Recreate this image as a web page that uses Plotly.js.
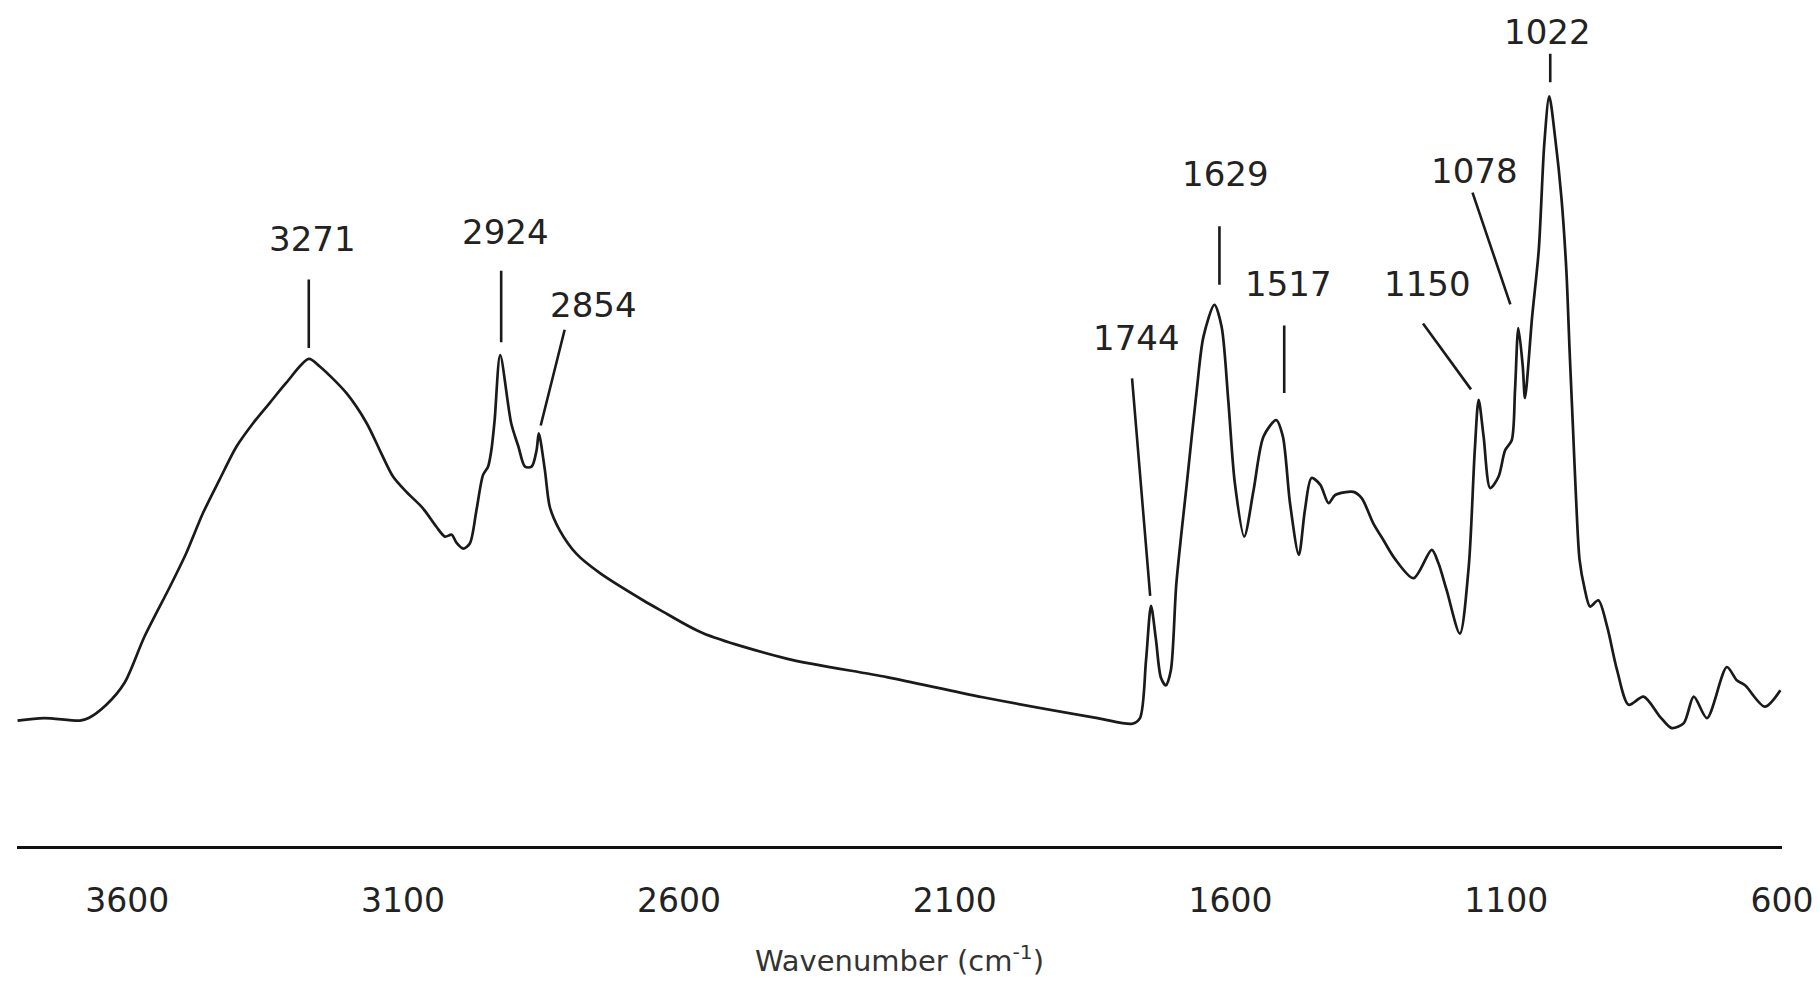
<!DOCTYPE html>
<html>
<head>
<meta charset="utf-8">
<script src="https://cdn.plot.ly/plotly-3.0.1.min.js"></script>
<style>
  html, body { margin: 0; padding: 0; background: #ffffff; }
  #chart { width: 1820px; height: 981px; }
</style>
</head>
<body>
<div id="chart"></div>
<script>
// ---- Data ----
const wavenumber = [
  3799, 3751, 3686, 3670, 3638, 3605, 3569, 3523, 3493, 3463, 3433, 3402, 3372, 3342, 3312, 3271,
  3251, 3203, 3166, 3140, 3118, 3094, 3064, 3040, 3024, 3012, 3003, 2991, 2979, 2967, 2955, 2946,
  2940, 2934, 2924, 2904, 2891, 2879, 2867, 2858, 2854, 2843, 2834, 2816, 2786, 2743, 2665, 2633,
  2557, 2403, 2223, 2049, 1841,
  1778, 1764, 1753, 1744, 1735, 1726, 1717, 1708, 1698, 1679, 1661, 1649, 1629, 1616,
  1604, 1592, 1575, 1558, 1540, 1517, 1505, 1492, 1476, 1465, 1453, 1437, 1422, 1410,
  1377, 1362, 1341, 1323, 1302, 1268, 1235, 1223, 1208, 1184, 1168, 1157, 1150, 1141,
  1129, 1114, 1102, 1090, 1084, 1078, 1070, 1066, 1053, 1041, 1031, 1022, 1011, 1000,
  991, 985, 979, 973, 967, 958, 948, 933, 917, 899, 878, 851, 821, 800, 778, 760, 736,
  700, 682, 667, 631, 603
];
const absorbance = [
  0.015, 0.019, 0.015, 0.019, 0.040, 0.075, 0.148, 0.227, 0.281, 0.344, 0.397, 0.450, 0.487, 0.519, 0.551, 0.589,
  0.577, 0.535, 0.487, 0.440, 0.402, 0.378, 0.352, 0.323, 0.307, 0.310, 0.297, 0.288, 0.296, 0.349, 0.405, 0.418,
  0.444, 0.492, 0.595, 0.487, 0.450, 0.418, 0.418, 0.444, 0.471, 0.413, 0.354, 0.317, 0.280, 0.249, 0.206, 0.190,
  0.154, 0.113, 0.084, 0.052, 0.019,
  0.010, 0.019, 0.111, 0.197, 0.143, 0.083, 0.071, 0.095, 0.233, 0.392, 0.540, 0.624, 0.675, 0.640,
  0.524, 0.392, 0.307, 0.381, 0.466, 0.492, 0.466, 0.360, 0.278, 0.349, 0.400, 0.389, 0.360, 0.373,
  0.378, 0.368, 0.328, 0.302, 0.272, 0.241, 0.286, 0.265, 0.222, 0.153, 0.259, 0.444, 0.524, 0.466,
  0.384, 0.402, 0.444, 0.460, 0.540, 0.638, 0.577, 0.527, 0.656, 0.762, 0.930, 1.006, 0.938, 0.846,
  0.730, 0.600, 0.480, 0.360, 0.270, 0.225, 0.196, 0.206, 0.164, 0.095, 0.040, 0.053, 0.021, 0.003, 0.011, 0.053, 0.019,
  0.100, 0.079, 0.071, 0.037, 0.063
];

// Peak labels
const peakLabels = ['3271', '2924', '2854', '1744', '1629', '1517', '1150', '1078', '1022'];
const peakWavenumbers = [3271, 2924, 2854, 1744, 1629, 1517, 1150, 1078, 1022];

// Axis ticks
const tickValues = [3600, 3100, 2600, 2100, 1600, 1100, 600];
const tickLabels = ['3600', '3100', '2600', '2100', '1600', '1100', '600'];
const xAxisTitle = 'Wavenumber (cm<sup>-1</sup>)';

// ---- Label placement (pixel offsets from each peak) ----
const placement = {
  '3271': { text: [4, -120],  tail: [0, -80],     standoff: 11, shift: 0 },
  '2924': { text: [5, -123],  tail: [0, -85],     standoff: 13, shift: 1 },
  '2854': { text: [55, -128], tail: [26, -104],   standoff: 8,  shift: 0 },
  '1744': { text: [-15, -268], tail: [-19, -228], standoff: 10, shift: 0 },
  '1629': { text: [11, -131], tail: [0, -79],     standoff: 20, shift: 5 },
  '1517': { text: [12, -136], tail: [0, -95],     standoff: 27, shift: 8 },
  '1150': { text: [-51, -116], tail: [-56, -77],  standoff: 13, shift: 0 },
  '1078': { text: [-44, -157], tail: [-46, -136], standoff: 25, shift: 0 },
  '1022': { text: [-2, -64],  tail: [0, -43],     standoff: 14, shift: 1 }
};

function valueAt(wn) {
  let best = 0;
  for (let i = 1; i < wavenumber.length; i++) {
    if (Math.abs(wavenumber[i] - wn) < Math.abs(wavenumber[best] - wn)) best = i;
  }
  return absorbance[best];
}

const ink = '#1a1a1a';
const annotations = [];
peakLabels.forEach((label, i) => {
  const wn = peakWavenumbers[i];
  const a = valueAt(wn);
  const p = placement[label];
  // leader line
  annotations.push({
    x: wn, y: a, xref: 'x', yref: 'y',
    text: '', borderpad: 0,
    showarrow: true, arrowhead: 0, arrowwidth: 2.6, arrowcolor: ink,
    ax: p.tail[0], ay: p.tail[1], axref: 'pixel', ayref: 'pixel',
    standoff: p.standoff, xshift: p.shift
  });
  // label text
  annotations.push({
    x: wn, y: a, xref: 'x', yref: 'y',
    text: label, showarrow: false,
    xanchor: 'center', yanchor: 'middle',
    xshift: p.text[0], yshift: -p.text[1],
    font: { family: 'DejaVu Sans, Verdana, sans-serif', size: 34, color: '#222222' }
  });
});

const trace = {
  x: wavenumber, y: absorbance,
  type: 'scatter', mode: 'lines',
  line: { color: ink, width: 2.7, shape: 'spline', smoothing: 0.8 },
  hoverinfo: 'skip'
};

const layout = {
  width: 1820, height: 981,
  margin: { l: 17, r: 38, t: 10, b: 135 },
  paper_bgcolor: '#ffffff', plot_bgcolor: '#ffffff',
  showlegend: false,
  xaxis: {
    range: [3800, 600],
    tickmode: 'array', tickvals: tickValues, ticktext: tickLabels,
    showgrid: false, zeroline: false,
    showline: true, linecolor: '#111111', linewidth: 3,
    ticks: '', ticklabelstandoff: 23,
    tickfont: { family: 'DejaVu Sans, Verdana, sans-serif', size: 33, color: '#222222' },
    title: { text: xAxisTitle, standoff: 33,
             font: { family: 'DejaVu Sans, Verdana, sans-serif', size: 29, color: '#333333' } },
    fixedrange: true
  },
  yaxis: {
    range: [-0.1841, 1.1429], visible: false, fixedrange: true
  },
  annotations: annotations
};

Plotly.newPlot('chart', [trace], layout, { staticPlot: true, displayModeBar: false });
</script>
</body>
</html>
